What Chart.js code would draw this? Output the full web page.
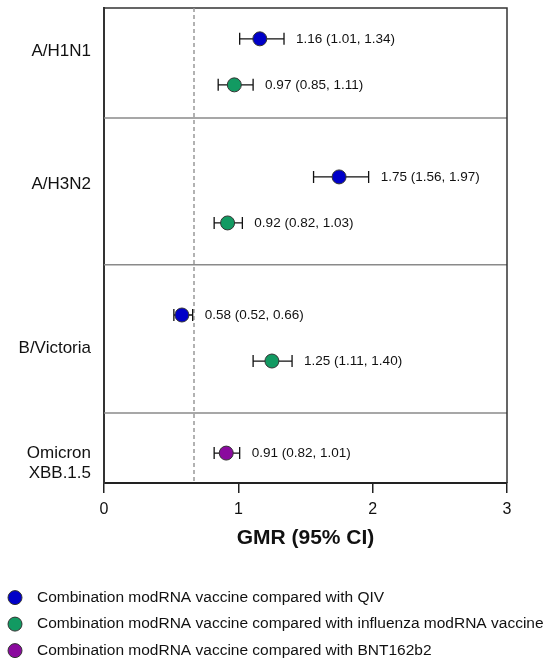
<!DOCTYPE html>
<html>
<head>
<meta charset="utf-8">
<title>GMR forest plot</title>
<script src="https://cdn.jsdelivr.net/npm/chart.js@4.4.1/dist/chart.umd.min.js"></script>
<style>
  body { margin: 0; background: #fff; }
  #wrap { width: 550px; height: 665px; position: relative; }
</style>
</head>
<body>
<div id="wrap"><canvas id="chartCanvas"></canvas></div>
<script>
// Catégories (axe Y) et leur position
const categories = ['A/H1N1', 'A/H3N2', 'B/Victoria', ['Omicron', 'XBB.1.5']];
const categoryRows = [1.28, 4.17, 7.72, 10.22];
const separatorRows = [2.72, 5.91, 9.13];
const margin = 0.67;

// Séries
const seriesLabels = [
    'Combination modRNA vaccine compared with QIV',
    'Combination modRNA vaccine compared with influenza modRNA vaccine',
    'Combination modRNA vaccine compared with BNT162b2'
];
const seriesColors = ['#0000c8', '#129a62', '#8a0a9e'];

const qivRows = [1, 4, 7];
const qivGmr = [1.16, 1.75, 0.58];
const qivLow = [1.01, 1.56, 0.52];
const qivHigh = [1.34, 1.97, 0.66];

const fluRows = [2, 5, 8];
const fluGmr = [0.97, 0.92, 1.25];
const fluLow = [0.85, 0.82, 1.11];
const fluHigh = [1.11, 1.03, 1.40];

const bntRows = [10];
const bntGmr = [0.91];
const bntLow = [0.82];
const bntHigh = [1.01];

const xTicks = [0, 1, 2, 3];

const FONT = "'Liberation Sans', Arial, sans-serif";

function buildPoints(rows, gmr, low, high) {
    return rows.map((r, i) => ({ x: gmr[i], y: r, lo: low[i], hi: high[i] }));
}

const groups = [
    buildPoints(qivRows, qivGmr, qivLow, qivHigh),
    buildPoints(fluRows, fluGmr, fluLow, fluHigh),
    buildPoints(bntRows, bntGmr, bntLow, bntHigh)
];

// Cadre, séparateurs, marge et barres d'erreur
const forestPlugin = {
    id: 'forest',
    beforeDatasetsDraw(chart) {
        const { ctx, chartArea: a, scales: { x, y } } = chart;
        ctx.save();
        // séparateurs
        ctx.strokeStyle = '#8a8a8a';
        ctx.lineWidth = 1.5;
        separatorRows.forEach(r => {
            const py = y.getPixelForValue(r);
            ctx.beginPath();
            ctx.moveTo(a.left, py);
            ctx.lineTo(a.right, py);
            ctx.stroke();
        });
        // cadre haut / droite
        ctx.strokeStyle = '#333';
        ctx.lineWidth = 1.5;
        ctx.beginPath();
        ctx.moveTo(a.left, a.top);
        ctx.lineTo(a.right, a.top);
        ctx.lineTo(a.right, a.bottom);
        ctx.stroke();
        // ligne de marge
        const mx = x.getPixelForValue(margin);
        ctx.strokeStyle = '#999';
        ctx.lineWidth = 1.5;
        ctx.setLineDash([4, 3]);
        ctx.beginPath();
        ctx.moveTo(mx, a.top);
        ctx.lineTo(mx, a.bottom);
        ctx.stroke();
        ctx.setLineDash([]);
        // barres d'erreur
        ctx.strokeStyle = '#111';
        ctx.lineWidth = 1.3;
        chart.data.datasets.forEach(ds => {
            ds.data.forEach(p => {
                const py = y.getPixelForValue(p.y);
                const x0 = x.getPixelForValue(p.lo);
                const x1 = x.getPixelForValue(p.hi);
                ctx.beginPath();
                ctx.moveTo(x0, py); ctx.lineTo(x1, py);
                ctx.moveTo(x0, py - 6); ctx.lineTo(x0, py + 6);
                ctx.moveTo(x1, py - 6); ctx.lineTo(x1, py + 6);
                ctx.stroke();
            });
        });
        ctx.restore();
    },
    afterDatasetsDraw(chart) {
        const { ctx, scales: { x, y } } = chart;
        ctx.save();
        ctx.fillStyle = '#111';
        ctx.font = '13.5px ' + FONT;
        ctx.textBaseline = 'middle';
        ctx.textAlign = 'left';
        chart.data.datasets.forEach(ds => {
            ds.data.forEach(p => {
                const txt = `${p.x.toFixed(2)} (${p.lo.toFixed(2)}, ${p.hi.toFixed(2)})`;
                ctx.fillText(txt, x.getPixelForValue(p.hi) + 12, y.getPixelForValue(p.y));
            });
        });
        ctx.restore();
    },
    afterDraw(chart) {
        // légende
        const { ctx } = chart;
        const axisBottom = chart.scales.x.bottom;
        ctx.save();
        ctx.font = '15.5px ' + FONT;
        ctx.textBaseline = 'middle';
        ctx.textAlign = 'left';
        chart.data.datasets.forEach((ds, i) => {
            const cy = axisBottom + 47 + i * 26.5;
            ctx.beginPath();
            ctx.arc(15, cy, 7, 0, Math.PI * 2);
            ctx.fillStyle = ds.backgroundColor;
            ctx.fill();
            ctx.strokeStyle = '#333';
            ctx.lineWidth = 1;
            ctx.stroke();
            ctx.fillStyle = '#111';
            ctx.fillText(ds.label, 37, cy);
        });
        ctx.restore();
    }
};

const ctx = document.getElementById('chartCanvas').getContext('2d');
const chart = new Chart(ctx, {
    type: 'scatter',
    data: {
        datasets: groups.map((pts, i) => ({
            label: seriesLabels[i],
            data: pts,
            backgroundColor: seriesColors[i],
            borderColor: '#333',
            borderWidth: 1,
            pointRadius: 7,
            pointHoverRadius: 7
        }))
    },
    options: {
        responsive: true,
        maintainAspectRatio: false,
        animation: false,
        layout: { padding: { top: 8, right: 43, bottom: 114.4, left: 0 } },
        plugins: {
            legend: { display: false },
            tooltip: { enabled: false }
        },
        scales: {
            x: {
                type: 'linear',
                min: 0,
                max: 3,
                afterBuildTicks: scale => { scale.ticks = xTicks.map(v => ({ value: v })); },
                afterFit: scale => {
                    scale.height = 67.6;
                    scale.paddingLeft = 0;
                    scale.paddingRight = 0;
                },
                ticks: {
                    padding: 7,
                    color: '#111',
                    font: { family: FONT, size: 16 }
                },
                grid: {
                    drawOnChartArea: false,
                    drawTicks: true,
                    tickLength: 10,
                    color: '#222',
                    lineWidth: 1.5
                },
                border: { color: '#222', width: 2 },
                title: {
                    display: true,
                    text: 'GMR (95% CI)',
                    color: '#111',
                    font: { family: FONT, size: 21, weight: 'bold' },
                    padding: { top: 6, bottom: 0 }
                }
            },
            y: {
                type: 'linear',
                reverse: true,
                min: 0.33,
                max: 10.65,
                afterBuildTicks: scale => { scale.ticks = categoryRows.map(v => ({ value: v })); },
                afterFit: scale => {
                    scale.width = 104;
                    scale.paddingTop = 0;
                    scale.paddingBottom = 0;
                },
                ticks: {
                    padding: 5,
                    color: '#111',
                    font: { family: FONT, size: 17 },
                    callback: (value, index) => categories[index]
                },
                grid: { display: false },
                border: { color: '#333', width: 2 }
            }
        }
    },
    plugins: [forestPlugin]
});
</script>
</body>
</html>
